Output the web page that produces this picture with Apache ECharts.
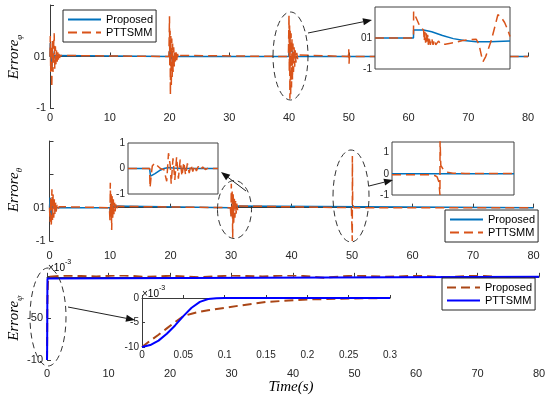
<!DOCTYPE html>
<html><head><meta charset="utf-8">
<script src="https://cdn.jsdelivr.net/npm/echarts@6/dist/echarts.min.js"></script>
<style>html,body{margin:0;padding:0;background:#fff}#c{width:550px;height:399px}</style>
</head><body><div id="c"></div>
<script>
// ---------- data ----------
const seriesNames = ['Proposed', 'PTTSMM'];
const timeTicks = [0, 10, 20, 30, 40, 50, 60, 70, 80];
const phiYLabels = {'-1': '-1', '0': '01'};
const thetaYLabels = {'-1': '-1', '0': '01'};
const psiYLabels = {'-10': '-10', '-5': '-50'};
const phiZoomYLabels = {'-1': '-1', '0': '01'};
const thetaZoomYLabels = {'-1': '-1', '0': '0', '1': '1'};
const psiZoomYLabels = {'-10': '-10', '-5': '-5', '0': '0'};

const phiProposed = [[0,0],[0.05,0.26],[0.15,-0.1],[0.3,-0.26],[0.45,0.1],[0.6,-0.06],[0.8,0.02],[1.0,0],
 [19.95,0],[20.05,0.15],[20.15,-0.15],[20.3,0.08],[20.45,-0.05],[20.6,0],
 [39.95,0],[40.02,0.2],[40.3,0.15],[40.7,0.05],[41.1,-0.03],[41.5,0],[80,0]];
const phiPTTSMM = [[0,0],[0.05,0.4],[0.12,-0.3],[0.2,0.2],[0.3,-0.6],[0.4,0.3],[0.5,-0.3],[0.6,0.2],[0.7,0.45],[0.8,-0.25],[0.9,0.2],[1.0,-0.15],[1.1,0.12],[1.2,-0.1],[1.3,0.08],[1.4,-0.06],[1.5,0.05],[1.6,-0.03],[1.7,0.02],[1.8,0],
 [19.9,0],[20.0,0.78],[20.05,-0.2],[20.1,0.5],[20.15,-0.75],[20.22,0.4],[20.3,-0.6],[20.38,0.35],[20.45,-0.4],[20.52,0.25],[20.6,-0.3],[20.7,0.18],[20.8,-0.2],[20.9,0.12],[21.0,-0.12],[21.1,0.08],[21.2,-0.07],[21.35,0.05],[21.5,-0.03],[21.7,0.02],[21.9,0],
 [39.9,0],[40.0,0.8],[40.05,-0.3],[40.1,0.6],[40.15,-0.82],[40.2,0.5],[40.28,-0.78],[40.35,0.45],[40.42,-0.6],[40.5,0.35],[40.58,-0.45],[40.66,0.25],[40.75,-0.3],[40.85,0.18],[40.95,-0.2],[41.05,0.12],[41.15,-0.12],[41.3,0.07],[41.45,-0.05],[41.6,0.03],[41.8,0],
 [49.95,0],[50.0,0.14],[50.05,-0.14],[50.1,0],[80,0]];
const phiZoomProposed = [[0,0],[0.285,0],[0.286,0.26],[0.36,0.26],[0.42,0.2],[0.5,0.08],[0.58,-0.02],[0.66,-0.08],[0.75,-0.12],[0.85,-0.12],[1.0,-0.1]];
const phiZoomPTTSMM = [[0,0],[0.285,0],[0.286,0.85],[0.3,0.7],[0.33,0.4],[0.36,0.25],[0.365,-0.1],[0.37,0.2],[0.375,-0.15],[0.38,0.15],[0.385,-0.2],[0.39,0.1],[0.395,-0.22],[0.40,0.05],[0.41,-0.22],[0.42,0.0],[0.43,-0.22],[0.44,-0.05],[0.45,-0.22],[0.47,-0.1],[0.49,-0.2],[0.52,-0.2],[0.56,-0.17],[0.6,-0.14],[0.65,-0.08],[0.7,-0.05],[0.75,-0.04],[0.77,-0.2],[0.79,-0.6],[0.8,-0.76],[0.82,-0.6],[0.86,-0.1],[0.89,0.4],[0.91,0.75],[0.93,0.7],[0.96,0.5],[0.98,0.3],[1.0,0.05]];

const thetaProposed = [[0,0],[0.1,0.3],[0.25,-0.3],[0.4,0.1],[0.6,0],[9.95,0],[10.05,-0.15],[10.3,0.05],[10.5,0],[29.95,0],[30.05,-0.25],[30.3,0.05],[30.6,0],[80,0]];
const thetaPTTSMM = [[0,0],[0.1,-0.42],[0.2,0.3],[0.3,-0.57],[0.4,0.55],[0.5,-0.4],[0.6,0.4],[0.7,-0.3],[0.8,0.25],[0.9,-0.2],[1.0,0.15],[1.1,-0.12],[1.25,0.08],[1.4,-0.05],[1.6,0.03],[1.8,0],
 [9.9,0],[10.0,-0.4],[10.05,0.75],[10.12,-0.3],[10.2,0.4],[10.28,-0.67],[10.36,0.35],[10.45,-0.3],[10.55,0.25],[10.65,-0.2],[10.75,0.15],[10.85,-0.12],[10.95,0.1],[11.1,-0.06],[11.25,0.04],[11.45,0],
 [29.9,0],[30.0,-0.3],[30.05,0.72],[30.12,-0.3],[30.2,0.5],[30.28,-0.9],[30.36,0.4],[30.45,-0.45],[30.55,0.3],[30.65,-0.3],[30.75,0.2],[30.85,-0.18],[30.95,0.12],[31.1,-0.08],[31.25,0.05],[31.45,0],
 [49.9,0],[50.0,-0.05],[50.05,-1],[50.06,1.55],[50.12,0.1],[50.3,0],[80,0]];
const thetaZoomAProposed = [[0,0],[0.24,0],[0.25,-0.3],[0.3,-0.2],[0.35,-0.08],[0.4,0.0],[0.45,0.04],[0.5,0.02],[0.6,0],[1,0]];
const thetaZoomAPTTSMM = [[0,0],[0.24,0],[0.245,-0.75],[0.26,-0.2],[0.27,0.1],[0.3,0.22],[0.33,0.1],[0.36,0.0],[0.4,-0.05],[0.43,-0.5],[0.45,0.6],[0.47,0.1],[0.48,-0.6],[0.5,0.4],[0.52,-0.45],[0.54,0.45],[0.56,-0.4],[0.58,0.35],[0.6,-0.3],[0.62,0.25],[0.64,-0.25],[0.66,0.2],[0.68,-0.18],[0.7,0.15],[0.72,-0.12],[0.74,0.12],[0.76,-0.1],[0.78,0.08],[0.8,-0.06],[0.83,0.06],[0.86,-0.04],[0.9,0.03],[0.95,0],[1,0]];
const thetaZoomBProposed = [[0,0],[1,0]];
const thetaZoomBPTTSMM = [[0,-0.05],[0.3,-0.05],[0.35,-0.08],[0.37,-0.15],[0.385,-0.4],[0.393,-1],[0.394,1.6],[0.4,0.4],[0.42,0.2],[0.45,0.08],[0.5,0.03],[0.6,0.02],[1,0.02]];

// psi values in units of 1e-3
const psiZoomProposed = [[0,-10],[0.01,-8.7],[0.02,-7.5],[0.03,-6.2],[0.04,-4.9],[0.05,-3.7],[0.06,-3.2],[0.07,-2.8],[0.08,-2.5],[0.1,-2.0],[0.12,-1.5],[0.15,-0.8],[0.2,-0.3],[0.25,-0.1],[0.3,0]];
const psiZoomPTTSMM = [[0,-10],[0.01,-9.6],[0.02,-8.7],[0.03,-7.3],[0.04,-5.6],[0.05,-3.7],[0.06,-2.0],[0.07,-0.8],[0.08,-0.2],[0.09,-0.03],[0.1,0],[0.3,0]];
const psiTailProposed = [[3,0.15],[8,0.05],[12,0.18],[16,0.0],[20,0.12],[25,-0.05],[30,0.15],[35,0.05],[40,0.2],[45,-0.1],[50,0.15],[55,0.0],[60,0.12],[65,-0.05],[70,0.15],[75,-0.1],[80,0]];
const psiTailPTTSMM = [[80,0]];

// ---------- style ----------
const BLUE = '#0072BD', ORANGE = '#D95319', PBLUE = '#0000FF', BROWN = '#AA4616';
const AX = '#3a3a3a', LAB = '#262626', FONT = 'Liberation Sans, Arial, sans-serif';
const SERIF = 'Liberation Serif, Times New Roman, serif';
const DASH = [9, 5];

const chart = echarts.init(document.getElementById('c'), null, {renderer: 'canvas'});

const grids = [
  {left: 50, top: 5, width: 478, height: 103},
  {left: 375, top: 7, width: 135, height: 62, show: true, backgroundColor: '#fff', borderColor: '#404040', borderWidth: 1, z: 5},
  {left: 49.5, top: 141, width: 484, height: 100},
  {left: 128, top: 143, width: 90, height: 51, show: true, backgroundColor: '#fff', borderColor: '#404040', borderWidth: 1, z: 5},
  {left: 392, top: 142, width: 122, height: 53, show: true, backgroundColor: '#fff', borderColor: '#404040', borderWidth: 1, z: 5},
  {left: 47, top: 276, width: 492, height: 84},
  {left: 142, top: 298, width: 248, height: 49}
];

function labFmt(map) { return v => { const k = String(Math.round(v * 1000) / 1000); return map[k] !== undefined ? map[k] : ''; }; }

function mainX(g, margin) {
  return {type: 'value', gridIndex: g, min: 0, max: 80, interval: 10,
    axisLine: {show: true, lineStyle: {color: AX, width: 1}},
    axisTick: {show: true, inside: true, length: 4, lineStyle: {color: AX}},
    axisLabel: {margin: margin, fontSize: 11, color: LAB, fontFamily: FONT},
    splitLine: {show: false}};
}
function mainY(g, min, max, interval, map) {
  return {type: 'value', gridIndex: g, min, max, interval,
    axisLine: {show: true, lineStyle: {color: AX, width: 1}},
    axisTick: {show: true, inside: true, length: 4, lineStyle: {color: AX}},
    axisLabel: {margin: 4, fontSize: 11, color: LAB, fontFamily: FONT, formatter: labFmt(map), showMaxLabel: true},
    splitLine: {show: false}};
}
function insetX(g) {
  return {type: 'value', gridIndex: g, min: 0, max: 1, show: false, z: 6};
}
function insetY(g, min, max, interval, map) {
  return {type: 'value', gridIndex: g, min, max, interval, z: 6,
    axisLine: {show: false}, axisTick: {show: false},
    axisLabel: {margin: 3, fontSize: 10, color: LAB, fontFamily: FONT, formatter: labFmt(map)},
    splitLine: {show: false}};
}

const xAxes = [
  mainX(0, 4), insetX(1), mainX(2, 9), insetX(3), insetX(4), mainX(5, 8),
  {type: 'value', gridIndex: 6, min: 0, max: 0.3, interval: 0.05,
    axisLine: {show: true, lineStyle: {color: AX}}, axisTick: {show: true, inside: true, length: 3, lineStyle: {color: AX}},
    axisLabel: {margin: 3, fontSize: 10, color: LAB, fontFamily: FONT}, splitLine: {show: false}}
];
const yAxes = [
  mainY(0, -1, 1, 1, phiYLabels),
  insetY(1, -1, 1, 1, phiZoomYLabels),
  mainY(2, -1, 2, 1, thetaYLabels),
  insetY(3, -1, 1, 1, thetaZoomYLabels),
  insetY(4, -1, 1.5, 1, thetaZoomYLabels),
  mainY(5, -10, 0.1, 5, psiYLabels),
  {type: 'value', gridIndex: 6, min: -10, max: 0, interval: 5,
    axisLine: {show: true, lineStyle: {color: AX}}, axisTick: {show: true, inside: true, length: 3, lineStyle: {color: AX}},
    axisLabel: {margin: 3, fontSize: 10, color: LAB, fontFamily: FONT, formatter: labFmt(psiZoomYLabels)}, splitLine: {show: false}}
];

function ln(name, data, idx, color, dashed, width, z) {
  return {type: 'line', name, data, xAxisIndex: idx, yAxisIndex: idx, symbol: 'none', showSymbol: false,
    animation: false, z: z, clip: true,
    lineStyle: {color, width, type: dashed ? DASH : 'solid'}, itemStyle: {color}};
}

const series = [
  ln(seriesNames[0], phiProposed, 0, BLUE, false, 1.5, 2),
  ln(seriesNames[1], phiPTTSMM, 0, ORANGE, true, 1.5, 3),
  ln(seriesNames[0], phiZoomProposed, 1, BLUE, false, 1.5, 7),
  ln(seriesNames[1], phiZoomPTTSMM, 1, ORANGE, true, 1.5, 8),
  ln(seriesNames[0], thetaProposed, 2, BLUE, false, 1.5, 2),
  ln(seriesNames[1], thetaPTTSMM, 2, ORANGE, true, 1.5, 3),
  ln(seriesNames[0], thetaZoomAProposed, 3, BLUE, false, 1.5, 7),
  ln(seriesNames[1], thetaZoomAPTTSMM, 3, ORANGE, true, 1.5, 8),
  ln(seriesNames[0], thetaZoomBProposed, 4, BLUE, false, 1.5, 7),
  ln(seriesNames[1], thetaZoomBPTTSMM, 4, ORANGE, true, 1.5, 8),
  ln(seriesNames[0] + ' (psi)', psiZoomProposed.concat(psiTailProposed), 5, BROWN, true, 2, 2),
  ln(seriesNames[1] + ' (psi)', psiZoomPTTSMM.concat(psiTailPTTSMM), 5, PBLUE, false, 2, 3),
  ln(seriesNames[0] + ' (psi)', psiZoomProposed, 6, BROWN, true, 2, 7),
  ln(seriesNames[1] + ' (psi)', psiZoomPTTSMM, 6, PBLUE, false, 2, 8)
];

function legend(left, top, names) {
  return {left, top, orient: 'vertical', data: names, itemWidth: 33, itemHeight: 12, itemGap: 2,
    padding: [4, 3, 4, 4], borderColor: '#262626', borderWidth: 1, backgroundColor: '#fff', z: 10,
    selectedMode: false,
    itemStyle: {opacity: 0},
    formatter: n => n.replace(' (psi)', ''),
    textStyle: {fontSize: 11, color: '#000', fontFamily: FONT}};
}

function arrow(x1, y1, x2, y2) {
  const a = Math.atan2(y2 - y1, x2 - x1), L = 9, W = 3.5;
  const bx = x2 - L * Math.cos(a), by = y2 - L * Math.sin(a);
  const px = -Math.sin(a) * W, py = Math.cos(a) * W;
  return [
    {type: 'line', z: 100, shape: {x1, y1, x2: bx, y2: by}, style: {stroke: '#222', lineWidth: 1}},
    {type: 'polygon', z: 100, shape: {points: [[x2, y2], [bx + px, by + py], [bx - px, by - py]]}, style: {fill: '#111'}}
  ];
}
function ell(cx, cy, rx, ry) {
  return {type: 'ellipse', z: 100, shape: {cx, cy, rx, ry}, style: {fill: 'none', stroke: '#333', lineWidth: 1, lineDash: [6, 4]}};
}
const titleRich = {
  a: {fontFamily: SERIF, fontStyle: 'italic', fontSize: 15, color: '#000', lineHeight: 20, verticalAlign: 'middle'},
  b: {fontFamily: SERIF, fontStyle: 'italic', fontSize: 9, color: '#000', lineHeight: 20, verticalAlign: 'bottom'}
};
const expRich = {
  a: {fontFamily: FONT, fontSize: 10, color: LAB, lineHeight: 14, verticalAlign: 'bottom'},
  b: {fontFamily: FONT, fontSize: 7, color: LAB, lineHeight: 14, verticalAlign: 'top'}
};
function ytitle(x, y, sub) {
  return {type: 'text', z: 100, x, y, rotation: Math.PI / 2,
    style: {text: '{a|Errore}{b|' + sub + '}', rich: titleRich, align: 'center', verticalAlign: 'middle'}};
}
function expo(x, y) {
  return {type: 'text', z: 100, x, y, style: {text: '{a|×10}{b|-3}', rich: expRich, align: 'left', verticalAlign: 'middle'}};
}

const graphic = [
  ytitle(14, 57, 'φ'), ytitle(14, 190, 'θ'), ytitle(14, 318, 'ψ'),
  {type: 'text', z: 100, x: 291, y: 387, style: {text: 'Time(s)', font: 'italic 15px ' + SERIF, fill: '#000', align: 'center', verticalAlign: 'middle'}},
  expo(48, 266), expo(142, 292),
  ell(290.5, 56, 17.5, 44), ell(234.5, 209.5, 17, 29), ell(351, 196, 18, 46), ell(48, 317, 18, 49),
  ...arrow(308, 33, 372, 20), ...arrow(246, 191, 221, 172), ...arrow(369, 186, 393, 180), ...arrow(68, 307, 135, 320)
];

chart.setOption({
  animation: false,
  backgroundColor: '#fff',
  grid: grids,
  xAxis: xAxes,
  yAxis: yAxes,
  legend: [
    legend(63, 10, seriesNames),
    legend(445, 210, seriesNames),
    legend(442, 278, seriesNames.map(n => n + ' (psi)'))
  ],
  series,
  graphic
});
</script></body></html>
